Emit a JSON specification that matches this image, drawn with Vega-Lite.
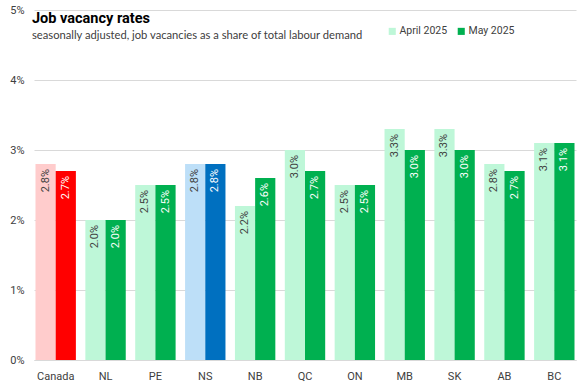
{
  "$schema": "https://vega.github.io/schema/vega-lite/v6.json",
  "width": 542,
  "height": 350,
  "autosize": "none",
  "padding": {"left": 34, "top": 10, "right": 1, "bottom": 25},
  "background": "white",
  "title": {
    "text": "Job vacancy rates",
    "subtitle": "seasonally adjusted, job vacancies  as a share of total labour demand",
    "anchor": "start",
    "frame": "group",
    "orient": "top",
    "offset": -38,
    "dx": -2,
    "font": "Roboto",
    "fontSize": 14.5,
    "fontWeight": "bold",
    "color": "#000000",
    "subtitleFont": "Lato",
    "subtitleFontSize": 11.2,
    "subtitleColor": "#404040",
    "subtitlePadding": 3
  },
  "data": {
    "values": [
      {"region": "Canada", "series": "April 2025", "value": 0.028},
      {"region": "Canada", "series": "May 2025", "value": 0.027},
      {"region": "NL", "series": "April 2025", "value": 0.020},
      {"region": "NL", "series": "May 2025", "value": 0.020},
      {"region": "PE", "series": "April 2025", "value": 0.025},
      {"region": "PE", "series": "May 2025", "value": 0.025},
      {"region": "NS", "series": "April 2025", "value": 0.028},
      {"region": "NS", "series": "May 2025", "value": 0.028},
      {"region": "NB", "series": "April 2025", "value": 0.022},
      {"region": "NB", "series": "May 2025", "value": 0.026},
      {"region": "QC", "series": "April 2025", "value": 0.030},
      {"region": "QC", "series": "May 2025", "value": 0.027},
      {"region": "ON", "series": "April 2025", "value": 0.025},
      {"region": "ON", "series": "May 2025", "value": 0.025},
      {"region": "MB", "series": "April 2025", "value": 0.033},
      {"region": "MB", "series": "May 2025", "value": 0.030},
      {"region": "SK", "series": "April 2025", "value": 0.033},
      {"region": "SK", "series": "May 2025", "value": 0.030},
      {"region": "AB", "series": "April 2025", "value": 0.028},
      {"region": "AB", "series": "May 2025", "value": 0.027},
      {"region": "BC", "series": "April 2025", "value": 0.031},
      {"region": "BC", "series": "May 2025", "value": 0.031}
    ]
  },
  "encoding": {
    "x": {
      "field": "region",
      "type": "nominal",
      "sort": null,
      "scale": {"paddingInner": 0.19, "paddingOuter": 0.03},
      "axis": {
        "title": null,
        "labelAngle": 0,
        "labelFont": "Roboto",
        "labelFontSize": 11,
        "labelColor": "#404040",
        "labelPadding": 10,
        "ticks": false,
        "domain": true,
        "domainColor": "#D9D9D9"
      }
    },
    "xOffset": {"field": "series", "type": "nominal", "scale": {"paddingInner": 0, "paddingOuter": 0}},
    "y": {
      "field": "value",
      "type": "quantitative",
      "scale": {"domain": [0, 0.05], "nice": false},
      "axis": {
        "title": null,
        "format": ".0%",
        "values": [0, 0.01, 0.02, 0.03, 0.04, 0.05],
        "labelOverlap": false,
        "labelFont": "Roboto",
        "labelFontSize": 11,
        "labelColor": "#404040",
        "labelPadding": 10,
        "ticks": false,
        "domain": false,
        "gridColor": "#D9D9D9"
      }
    }
  },
  "layer": [
    {
      "mark": {"type": "bar"},
      "encoding": {
        "color": {
          "field": "series",
          "type": "nominal",
          "scale": {"domain": ["April 2025", "May 2025"], "range": ["#BEF7D8", "#00B050"]},
          "condition": [
            {"test": "datum.region === 'Canada' && datum.series === 'April 2025'", "value": "#FFCCCC"},
            {"test": "datum.region === 'Canada' && datum.series === 'May 2025'", "value": "#FF0000"},
            {"test": "datum.region === 'NS' && datum.series === 'April 2025'", "value": "#BDDFF8"},
            {"test": "datum.region === 'NS' && datum.series === 'May 2025'", "value": "#0070C0"}
          ],
          "legend": {
            "title": null,
            "orient": "none",
            "legendX": 353,
            "legendY": 16,
            "direction": "horizontal",
            "symbolType": "square",
            "symbolSize": 50,
            "symbolStrokeWidth": 0,
            "labelFont": "Roboto",
            "labelFontSize": 10.5,
            "labelColor": "#404040",
            "labelOffset": 2,
            "columnPadding": 8
          }
        }
      }
    },
    {
      "mark": {"type": "text", "angle": 270, "align": "right", "baseline": "middle", "dx": -5, "font": "Roboto", "fontSize": 11},
      "encoding": {
        "text": {"field": "value", "type": "quantitative", "format": ".1%"},
        "color": {
          "condition": {"test": "datum.series === 'April 2025'", "value": "#404040"},
          "value": "#FFFFFF"
        }
      }
    }
  ],
  "config": {
    "view": {"stroke": null}
  }
}
